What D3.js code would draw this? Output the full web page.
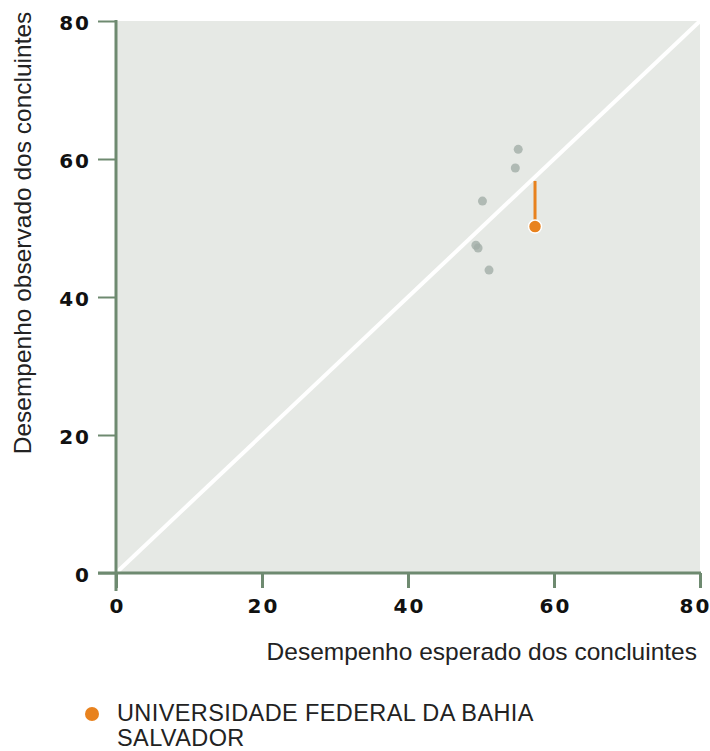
<!DOCTYPE html>
<html>
<head>
<meta charset="utf-8">
<script src="https://cdn.jsdelivr.net/npm/d3@7"></script>
<style>
  body { margin: 0; background: #fff; }
  .tick-label { font-family: "DejaVu Sans", sans-serif; font-weight: bold; font-size: 20px; letter-spacing: 2px; fill: #111; }
  .axis-title { font-family: "Liberation Sans", Arial, sans-serif; font-size: 24.5px; fill: #222; }
  .legend-text { font-family: "Liberation Sans", Arial, sans-serif; font-size: 23.5px; letter-spacing: 0.4px; fill: #222; }
</style>
</head>
<body>
<svg id="chart" width="710" height="751"></svg>
<script>
// other institutions (expected, observed)
const otherExpected = [55.1, 54.7, 50.2, 49.3, 49.6, 51.1];
const otherObserved = [61.4, 58.7, 53.9, 47.5, 47.1, 43.9];

// highlighted institution
const highlightName = ["UNIVERSIDADE FEDERAL DA BAHIA", "SALVADOR"];
const highlightExpected = 57.4;
const highlightObserved = 50.2;

const tickValues = [0, 20, 40, 60, 80];
const xTitle = "Desempenho esperado dos concluintes";
const yTitle = "Desempenho observado dos concluintes";

const svg = d3.select("#chart");
const axisColor = "#6e8a70";

const x = d3.scaleLinear().domain([0, 80]).range([116, 700]);
const y = d3.scaleLinear().domain([0, 80]).range([573, 21]);

// plot background
svg.append("rect")
  .attr("x", x(0))
  .attr("y", y(80))
  .attr("width", x(80) - x(0))
  .attr("height", y(0) - y(80))
  .attr("fill", "#e6e9e5");

// diagonal (expected == observed)
svg.append("line")
  .attr("x1", x(0)).attr("y1", y(0))
  .attr("x2", x(80)).attr("y2", y(80))
  .attr("stroke", "#fff")
  .attr("stroke-width", 4);

// other points
svg.append("g")
  .selectAll("circle")
  .data(otherExpected.map((e, i) => ({e, o: otherObserved[i]})))
  .join("circle")
  .attr("cx", d => x(d.e))
  .attr("cy", d => y(d.o))
  .attr("r", 4.5)
  .attr("fill", "#a3aea7")
  .attr("opacity", 0.8);

// highlighted gap line + point
svg.append("line")
  .attr("x1", x(highlightExpected)).attr("x2", x(highlightExpected))
  .attr("y1", y(highlightExpected) + 4)
  .attr("y2", y(highlightObserved))
  .attr("stroke", "#e8821e")
  .attr("stroke-width", 3);

svg.append("circle")
  .attr("cx", x(highlightExpected))
  .attr("cy", y(highlightObserved))
  .attr("r", 6.5)
  .attr("fill", "#e8821e")
  .attr("stroke", "#fff")
  .attr("stroke-width", 1.5);

// y axis
const yAxis = svg.append("g")
  .attr("transform", `translate(${x(0)},0)`)
  .call(d3.axisLeft(y).tickValues(tickValues).tickSize(18).tickPadding(7));
yAxis.select(".domain").remove();
yAxis.selectAll(".tick line").attr("stroke", axisColor).attr("stroke-width", 2);
yAxis.selectAll(".tick text").attr("class", "tick-label").attr("dy", "0.42em");
yAxis.append("line")
  .attr("x1", 0).attr("x2", 0)
  .attr("y1", y(80) - 1).attr("y2", y(0) + 18)
  .attr("stroke", axisColor).attr("stroke-width", 3);

// x axis
const xAxis = svg.append("g")
  .attr("transform", `translate(0,${y(0)})`)
  .call(d3.axisBottom(x).tickValues(tickValues).tickSize(15).tickPadding(9));
xAxis.select(".domain").remove();
xAxis.selectAll(".tick line").attr("stroke", axisColor).attr("stroke-width", 3);
xAxis.selectAll(".tick text").attr("class", "tick-label").attr("dy", "0.8em")
  .attr("dx", d => d === 80 ? -5 : 1);
xAxis.append("line")
  .attr("x1", x(0) - 18).attr("x2", x(80) + 1)
  .attr("y1", 0).attr("y2", 0)
  .attr("stroke", axisColor).attr("stroke-width", 3);

// axis titles
svg.append("text")
  .attr("class", "axis-title")
  .attr("x", x(80) - 3)
  .attr("y", 660)
  .attr("text-anchor", "end")
  .text(xTitle);

svg.append("text")
  .attr("class", "axis-title")
  .attr("transform", "translate(31,233) rotate(-90)")
  .attr("text-anchor", "middle")
  .text(yTitle);

// legend
svg.append("circle")
  .attr("cx", 92).attr("cy", 714)
  .attr("r", 7)
  .attr("fill", "#e8821e");

svg.append("text")
  .attr("class", "legend-text")
  .selectAll("tspan")
  .data(highlightName)
  .join("tspan")
  .attr("x", 117)
  .attr("y", (d, i) => 721 + i * 25)
  .text(d => d);
</script>
</body>
</html>
